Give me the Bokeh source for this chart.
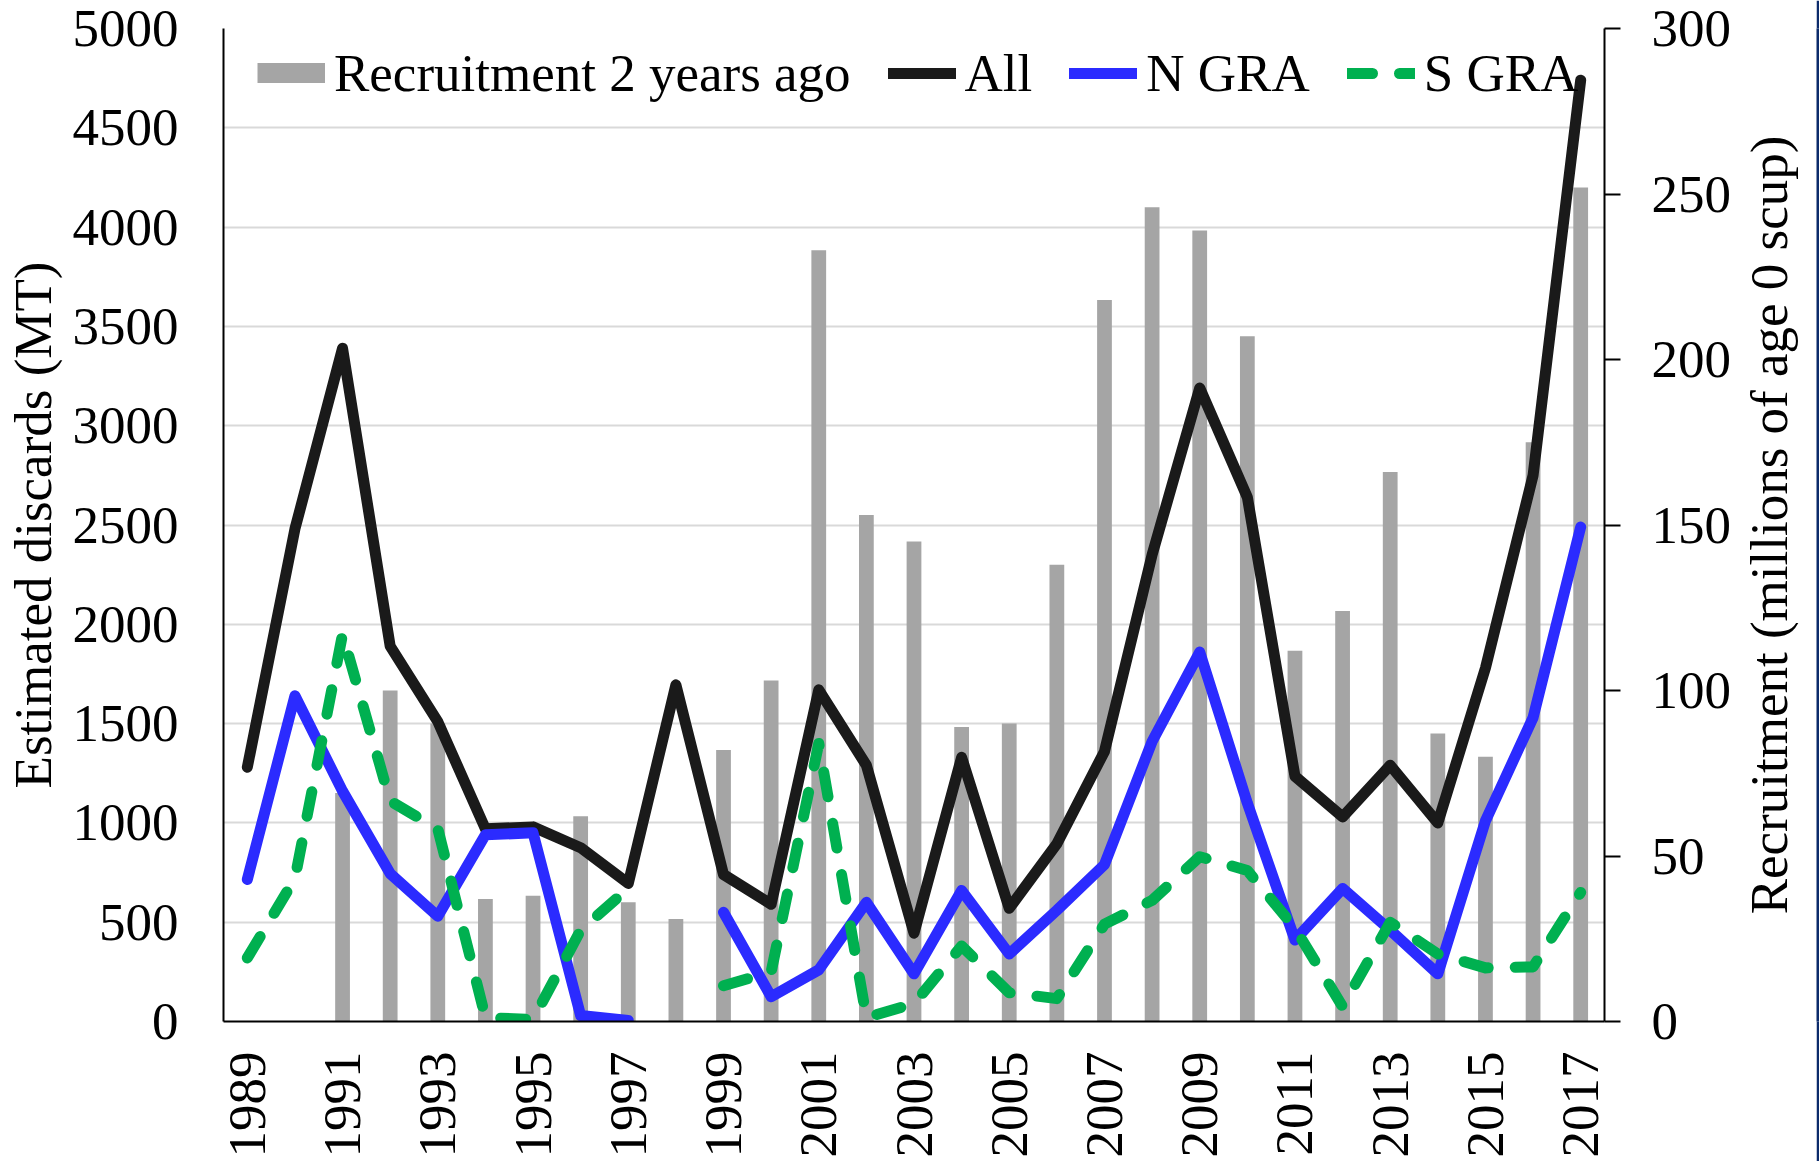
import math
from bokeh.plotting import figure
from bokeh.layouts import row
from bokeh.models import Range1d, LinearAxis, FixedTicker, Legend, LegendItem
from bokeh.embed import file_html
from bokeh.resources import INLINE

nan = float("nan")

# ---- data ----
years = [1989, 1990, 1991, 1992, 1993, 1994, 1995, 1996, 1997, 1998,
         1999, 2000, 2001, 2002, 2003, 2004, 2005, 2006, 2007, 2008,
         2009, 2010, 2011, 2012, 2013, 2014, 2015, 2016, 2017]
x_tick_years = [1989, 1991, 1993, 1995, 1997, 1999, 2001, 2003,
                2005, 2007, 2009, 2011, 2013, 2015, 2017]
left_ticks = [0, 500, 1000, 1500, 2000, 2500, 3000, 3500, 4000, 4500, 5000]
right_ticks = [0, 50, 100, 150, 200, 250, 300]

recruitment_2yr_ago = [nan, nan, 69, 100, 90, 37, 38, 62, 36, 31,
                       82, 103, 233, 153, 145, 89, 90, 138, 218, 246,
                       239, 207, 112, 124, 166, 87, 80, 175, 252]
all_discards = [1280, 2480, 3390, 1890, 1510, 970, 980, 875, 695, 1695,
                740, 590, 1670, 1290, 445, 1330, 570, 895, 1360, 2350,
                3190, 2640, 1235, 1030, 1290, 1000, 1780, 2750, 4740]
n_gra = [715, 1640, 1160, 745, 530, 940, 950, 30, 5, nan,
         550, 125, 260, 600, 240, 660, 340, 560, 790, 1410,
         1860, 1100, 410, 670, 460, 240, 1010, 1530, 2490]
s_gra = [320, 720, 1950, 1110, 970, 20, 10, 460, 670, nan,
         180, 250, 1400, 20, 90, 380, 145, 115, 490, 610,
         830, 760, 470, 75, 500, 340, 270, 275, 650]

left_title = "Estimated discards (MT)"
right_title = "Recruitment (millions of age 0 scup)"

FONT = "Liberation Serif"
FS = "53px"
BAR_C = "#a5a5a5"
ALL_C = "#1a1a1a"
N_C = "#2b2bff"
S_C = "#00b050"
EDGE_C = "#0c2b6b"

H = 1161
MAIN_W = 1736
SIDE_W = 80
EDGE_W = 3
BORDER_TOP = 28
BORDER_BOTTOM = 140

p = figure(width=MAIN_W, height=H, output_backend="svg", toolbar_location=None,
           x_range=Range1d(1988.5, 2017.5), y_range=Range1d(0, 5000),
           min_border_left=222, min_border_right=132,
           min_border_top=BORDER_TOP, min_border_bottom=BORDER_BOTTOM)
p.outline_line_color = None
p.background_fill_color = "white"
p.border_fill_color = "white"
p.extra_y_ranges = {"right": Range1d(0, 300)}

p.xgrid.visible = False
p.ygrid.grid_line_color = "#d9d9d9"
p.ygrid.grid_line_width = 2

# left axis
ya = p.yaxis[0]
ya.ticker = FixedTicker(ticks=left_ticks)
ya.major_tick_out = 0
ya.major_tick_in = 0
ya.minor_tick_out = 0
ya.minor_tick_in = 0
ya.axis_line_color = "black"
ya.axis_line_width = 2
ya.major_label_standoff = 45
ya.major_label_text_font = FONT
ya.major_label_text_font_size = FS
ya.major_label_text_color = "black"
ya.axis_label = left_title
ya.axis_label_standoff = 8
ya.axis_label_text_font = FONT
ya.axis_label_text_font_size = FS
ya.axis_label_text_font_style = "normal"
ya.axis_label_text_color = "black"

# bottom axis
xa = p.xaxis[0]
xa.ticker = FixedTicker(ticks=x_tick_years)
xa.major_label_orientation = math.pi / 2
xa.major_tick_out = 0
xa.major_tick_in = 0
xa.minor_tick_out = 0
xa.minor_tick_in = 0
xa.axis_line_color = "black"
xa.axis_line_width = 2
xa.major_label_standoff = 30
xa.major_label_text_font = FONT
xa.major_label_text_font_size = FS
xa.major_label_text_color = "black"

# right axis
ra = LinearAxis(y_range_name="right", ticker=FixedTicker(ticks=right_ticks))
ra.major_tick_out = 16
ra.major_tick_in = 0
ra.major_tick_line_width = 2
ra.major_tick_line_color = "black"
ra.minor_tick_out = 0
ra.minor_tick_in = 0
ra.axis_line_color = "black"
ra.axis_line_width = 2
ra.major_label_standoff = 31
ra.major_label_text_font = FONT
ra.major_label_text_font_size = FS
ra.major_label_text_color = "black"
p.add_layout(ra, "right")

# bars
p.vbar(x=years, top=recruitment_2yr_ago, bottom=0, width=0.31,
       y_range_name="right", fill_color=BAR_C, line_color=None)

# lines
r_all = p.line(years, all_discards, line_color=ALL_C, line_width=11,
               line_join="round", line_cap="round")
r_n = p.line(years, n_gra, line_color=N_C, line_width=11,
             line_join="round", line_cap="round")
r_s = p.line(years, s_gra, line_color=S_C, line_width=11,
             line_join="round", line_cap="round", line_dash="25 27")
# legend swatch for the bars (no visible data)
r_sw = p.line(x=[nan], y=[nan], line_color=BAR_C, line_width=27, line_cap="butt")

legend = Legend(items=[
    LegendItem(label="Recruitment 2 years ago", renderers=[r_sw]),
    LegendItem(label="All", renderers=[r_all]),
    LegendItem(label="N GRA", renderers=[r_n]),
    LegendItem(label="S GRA", renderers=[r_s]),
], orientation="horizontal", location=(34, 918), margin=0, padding=0,
    spacing=37, glyph_width=68, glyph_height=20, label_height=20,
    label_standoff=9, label_text_font=FONT, label_text_font_size=FS,
    label_text_color="black", border_line_color=None,
    background_fill_alpha=0)
p.add_layout(legend)

# narrow side panel whose (tick-less) left axis carries the right-hand title,
# reading bottom-to-top and centred on the same frame height
pr = figure(width=SIDE_W, height=H, output_backend="svg", toolbar_location=None,
            x_range=Range1d(0, 1), y_range=p.y_range,
            x_axis_location=None, y_axis_location="left",
            min_border_left=0, min_border_right=0,
            min_border_top=BORDER_TOP, min_border_bottom=BORDER_BOTTOM)
pr.grid.visible = False
pr.outline_line_color = None
pr.background_fill_color = "white"
pr.border_fill_color = "white"
ta = pr.yaxis[0]
ta.ticker = FixedTicker(ticks=[])
ta.axis_line_color = None
ta.major_tick_out = 0
ta.major_tick_in = 0
ta.minor_tick_out = 0
ta.minor_tick_in = 0
ta.major_label_standoff = 0
ta.axis_label = right_title
ta.axis_label_standoff = 0
ta.axis_label_text_font = FONT
ta.axis_label_text_font_size = FS
ta.axis_label_text_font_style = "normal"
ta.axis_label_text_color = "black"

# thin dark edge at the right of the picture
pe = figure(width=EDGE_W, height=H, output_backend="svg", toolbar_location=None,
            x_axis_location=None, y_axis_location=None,
            min_border_left=0, min_border_right=0,
            min_border_top=BORDER_TOP, min_border_bottom=BORDER_BOTTOM)
pe.grid.visible = False
pe.outline_line_color = None
pe.background_fill_color = EDGE_C
pe.border_fill_color = EDGE_C

layout = row(p, pr, pe)
open("out.html", "w").write(file_html(layout, INLINE))
